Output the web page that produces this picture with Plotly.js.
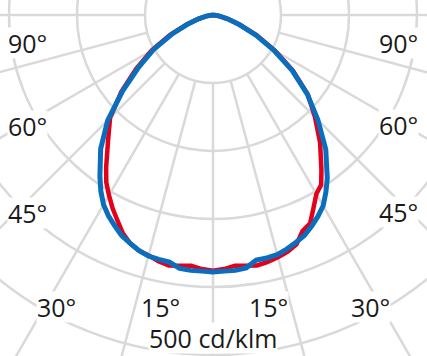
<!DOCTYPE html>
<html>
<head>
<meta charset="utf-8">
<script src="https://cdn.plot.ly/plotly-3.0.1.min.js"></script>
<style>
  html, body { margin: 0; padding: 0; width: 427px; height: 356px; overflow: hidden; background: #fff; }
  #plot { position: absolute; }
</style>
</head>
<body>
<div id="plot"></div>
<script>
// Gamma angles (degrees from nadir)
const gammaAngles = [0, 2.5, 5, 7.5, 10, 12.5, 15, 17.5, 20, 22.5, 25, 27.5, 30, 32.5, 35, 40, 45, 50, 55, 60, 65, 70, 75, 80, 85, 90];

// Red curve (cd/klm), left half and right half
const redLeft  = [376, 374, 370, 372, 374, 371, 366, 363, 357, 347, 333, 320, 306, 292, 274, 240, 214, 176, 138, 104, 70, 41, 22, 10, 3, 0];
const redRight = [376, 374, 370, 372, 374, 372, 369, 365, 359, 344, 338, 320, 304, 296, 278, 245, 212, 182, 144, 106, 71, 42, 23, 10, 3, 0];

// Blue curve (cd/klm), left half and right half
const blueLeft  = [378, 377, 377, 376, 369, 368, 367, 363, 357, 351, 342, 333, 322, 307, 290, 257, 219, 173, 133, 100, 67, 40, 22, 10, 3, 0];
const blueRight = [378, 377, 377, 375, 366, 366, 365, 361, 356, 351, 343, 334, 324, 309, 293, 258, 218, 181, 142, 103, 69, 41, 22, 10, 3, 0];

// Grid
const ringValues = [100, 200, 300, 400, 500];
const spokeStep = 15;
const radialMax = 600;

// Labels
const angleLabels = ['90°', '60°', '45°', '30°', '15°'];
const scaleLabel = '500 cd/klm';

// ---- geometry of the page ----
const pxPerUnit = 0.68;              // pixels per cd/klm
const polarR = radialMax * pxPerUnit;
const divW = 2 * polarR;
const centreX = 213, centreY = 15;
const offLeft = centreX - polarR, offTop = centreY - polarR;
const plotDiv = document.getElementById('plot');
plotDiv.style.left = offLeft + 'px';
plotDiv.style.top = offTop + 'px';
plotDiv.style.width = divW + 'px';
plotDiv.style.height = divW + 'px';

function halfCurve(leftVals, rightVals) {
  const theta = [], r = [];
  for (let i = gammaAngles.length - 1; i >= 0; i--) { theta.push(-gammaAngles[i]); r.push(leftVals[i]); }
  for (let i = 1; i < gammaAngles.length; i++) { theta.push(gammaAngles[i]); r.push(rightVals[i]); }
  return {theta, r};
}

const spokeR = [], spokeT = [];
for (let a = 0; a < 360; a += spokeStep) {
  spokeR.push(ringValues[0], radialMax, null);
  spokeT.push(a, a, null);
}

const gridColor = '#d9d9d9';
const redCurve = halfCurve(redLeft, redRight);
const blueCurve = halfCurve(blueLeft, blueRight);

const traces = [
  {type: 'scatterpolar', mode: 'lines', r: spokeR, theta: spokeT,
   line: {color: gridColor, width: 2.5}, hoverinfo: 'skip', showlegend: false, connectgaps: false},
  {type: 'scatterpolar', mode: 'lines', r: redCurve.r, theta: redCurve.theta,
   line: {color: '#e2001a', width: 4.5}, hoverinfo: 'skip', showlegend: false},
  {type: 'scatterpolar', mode: 'lines', r: blueCurve.r, theta: blueCurve.theta,
   line: {color: '#0a6ebd', width: 5}, hoverinfo: 'skip', showlegend: false}
];

// label pixel positions within the window
const labelPos = [
  [[27, 43], [399, 43]],
  [[27, 126], [399, 125]],
  [[27, 213], [399, 212]],
  [[56, 307], [371, 307]],
  [[160, 307], [268, 307]]
];
const labelFont = {family: 'Open Sans, sans-serif', size: 25, color: '#1a1a1a'};
function paperX(x) { return (x - offLeft) / divW; }
function paperY(y) { return 1 - (y - offTop) / divW; }

const annotations = [];
angleLabels.forEach((txt, i) => {
  labelPos[i].forEach(p => {
    annotations.push({xref: 'paper', yref: 'paper', x: paperX(p[0]), y: paperY(p[1]),
      text: txt, showarrow: false, xanchor: 'center', yanchor: 'middle', height: 30,
      font: labelFont, bgcolor: '#ffffff', borderpad: 0});
  });
});
annotations.push({xref: 'paper', yref: 'paper', x: paperX(212.5), y: paperY(338),
  text: scaleLabel, showarrow: false, xanchor: 'center', yanchor: 'middle', height: 30,
  font: labelFont, bgcolor: '#ffffff', borderpad: 0});

const layout = {
  width: divW, height: divW, autosize: false,
  margin: {l: 0, r: 0, t: 0, b: 0, pad: 0},
  paper_bgcolor: '#ffffff',
  showlegend: false,
  polar: {
    domain: {x: [0, 1], y: [0, 1]},
    bgcolor: '#ffffff',
    angularaxis: {rotation: -90, direction: 'counterclockwise', showgrid: false,
                  showline: false, ticks: '', showticklabels: false},
    radialaxis: {range: [0, radialMax], tickvals: ringValues, showticklabels: false,
                 ticks: '', showline: false, gridcolor: gridColor, gridwidth: 2.5}
  },
  annotations: annotations
};

Plotly.newPlot(plotDiv, traces, layout, {staticPlot: true, displayModeBar: false});
</script>
</body>
</html>
